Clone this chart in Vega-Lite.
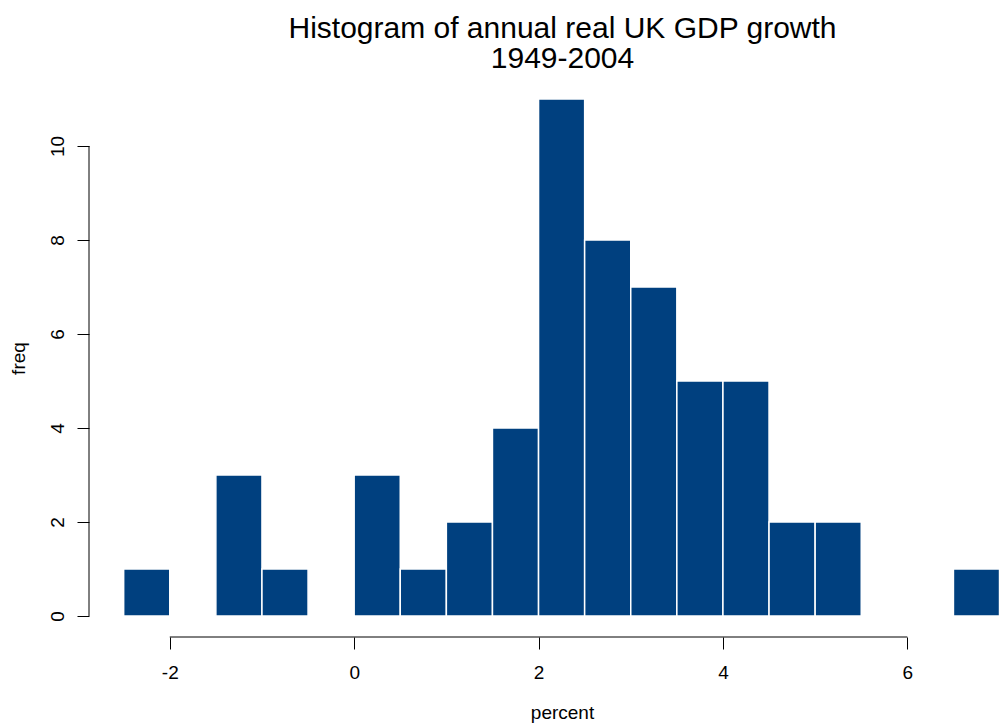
{
  "$schema": "https://vega.github.io/schema/vega-lite/v6.json",
  "width": 911,
  "height": 538,
  "autosize": {"type": "none"},
  "padding": {"left": 89, "top": 99, "right": 0, "bottom": 87},
  "background": "white",
  "config": {
    "view": {"stroke": null},
    "font": "Liberation Sans",
    "axis": {"labelFont": "Liberation Sans", "titleFont": "Liberation Sans"}
  },
  "title": {
    "text": ["Histogram of annual real UK GDP growth", "1949-2004"],
    "font": "Liberation Sans",
    "fontSize": 30,
    "fontWeight": "normal",
    "color": "black",
    "anchor": "middle",
    "frame": "group",
    "baseline": "alphabetic",
    "lineHeight": 30.5,
    "dx": 18,
    "offset": 0
  },
  "datasets": {
    "bins": [
      {"lo": -2.5, "hi": -2.0, "count": 1},
      {"lo": -2.0, "hi": -1.5, "count": 0},
      {"lo": -1.5, "hi": -1.0, "count": 3},
      {"lo": -1.0, "hi": -0.5, "count": 1},
      {"lo": -0.5, "hi": 0.0, "count": 0},
      {"lo": 0.0, "hi": 0.5, "count": 3},
      {"lo": 0.5, "hi": 1.0, "count": 1},
      {"lo": 1.0, "hi": 1.5, "count": 2},
      {"lo": 1.5, "hi": 2.0, "count": 4},
      {"lo": 2.0, "hi": 2.5, "count": 11},
      {"lo": 2.5, "hi": 3.0, "count": 8},
      {"lo": 3.0, "hi": 3.5, "count": 7},
      {"lo": 3.5, "hi": 4.0, "count": 5},
      {"lo": 4.0, "hi": 4.5, "count": 5},
      {"lo": 4.5, "hi": 5.0, "count": 2},
      {"lo": 5.0, "hi": 5.5, "count": 2},
      {"lo": 5.5, "hi": 6.0, "count": 0},
      {"lo": 6.0, "hi": 6.5, "count": 0},
      {"lo": 6.5, "hi": 7.0, "count": 1}
    ],
    "xaxis": [{"from": -2, "to": 6}],
    "yaxis": [{"from": 0, "to": 10}]
  },
  "layer": [
    {
      "data": {"name": "bins"},
      "mark": {"type": "bar", "fill": "#00407f", "stroke": "white", "strokeWidth": 1.5},
      "encoding": {
        "x": {
          "field": "lo",
          "type": "quantitative",
          "scale": {"domain": [-2.876, 7.005], "nice": false, "zero": false},
          "axis": {
            "values": [-2, 0, 2, 4, 6],
            "labelExpr": "'' + datum.value",
            "domain": false,
            "grid": false,
            "ticks": true,
            "tickSize": 12,
            "tickColor": "black",
            "tickWidth": 1,
            "labelFontSize": 19,
            "labelColor": "black",
            "labelBaseline": "alphabetic",
            "labelPadding": 29,
            "labelFlush": false,
            "labelOverlap": false,
            "title": "percent",
            "titleFontSize": 19,
            "titleFontWeight": "normal",
            "titleColor": "black",
            "titleX": 473,
            "titleY": 81,
            "titleAlign": "center",
            "titleBaseline": "alphabetic"
          }
        },
        "x2": {"field": "hi"},
        "y": {
          "field": "count",
          "type": "quantitative",
          "stack": null,
          "scale": {"domain": [-0.447, 11], "nice": false, "zero": false},
          "axis": {
            "values": [0, 2, 4, 6, 8, 10],
            "labelExpr": "'' + datum.value",
            "domain": false,
            "grid": false,
            "tickSize": 12,
            "tickColor": "black",
            "tickWidth": 1,
            "labelFontSize": 19,
            "labelColor": "black",
            "labelAngle": -90,
            "labelAlign": "center",
            "labelBaseline": "alphabetic",
            "labelPadding": 14,
            "labelFlush": false,
            "labelOverlap": false,
            "title": "freq",
            "titleFontSize": 19,
            "titleFontWeight": "normal",
            "titleColor": "black",
            "titleAngle": -90,
            "titleX": -71,
            "titleY": 259,
            "titleAlign": "center",
            "titleBaseline": "middle"
          }
        },
        "y2": {"datum": 0}
      }
    },
    {
      "data": {"name": "xaxis"},
      "mark": {"type": "rule", "color": "black", "strokeWidth": 1},
      "encoding": {
        "x": {"field": "from", "type": "quantitative"},
        "x2": {"field": "to"},
        "y": {"datum": -0.447, "type": "quantitative"}
      }
    },
    {
      "data": {"name": "yaxis"},
      "mark": {"type": "rule", "color": "black", "strokeWidth": 1},
      "encoding": {
        "y": {"field": "from", "type": "quantitative"},
        "y2": {"field": "to"},
        "x": {"datum": -2.876, "type": "quantitative"}
      }
    }
  ]
}
